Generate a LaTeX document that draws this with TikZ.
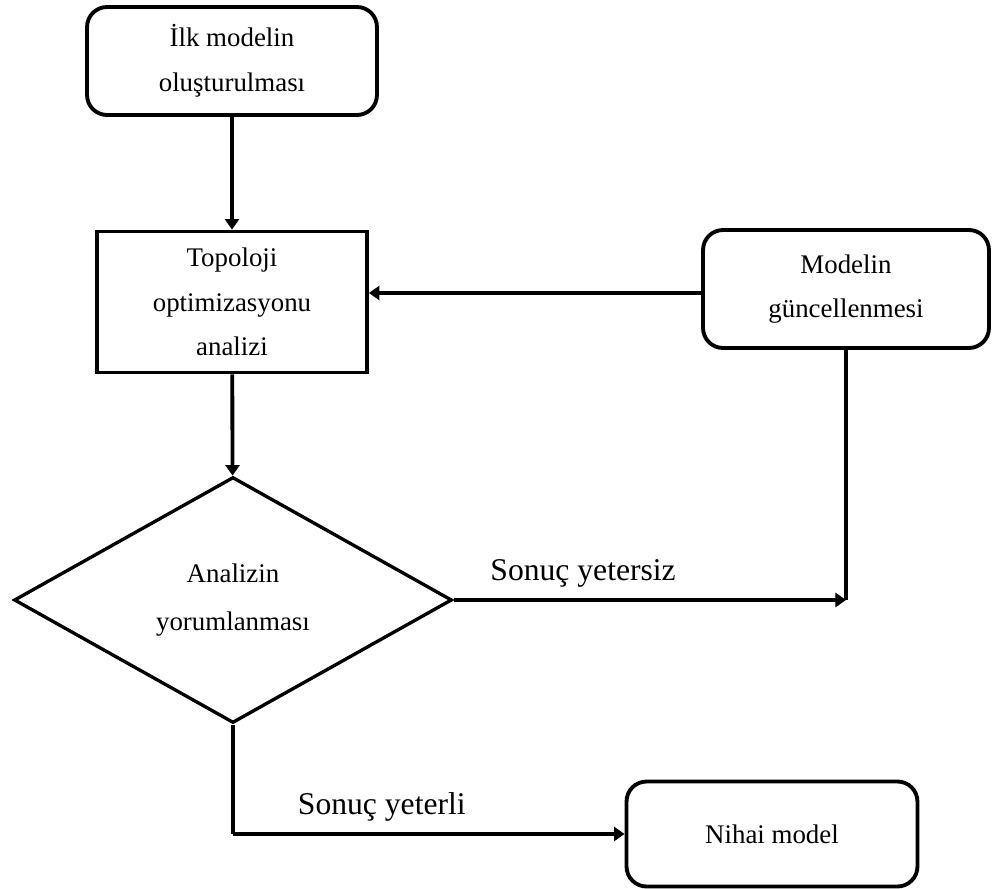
\documentclass[tikz,border=0pt]{standalone}
\usepackage{fontspec}
\setmainfont{Liberation Serif}
\usetikzlibrary{arrows.meta,shapes.geometric}

\begin{document}
\begin{tikzpicture}[x=0.02cm,y=-0.02cm]
        \tikzstyle{box}=[rectangle,draw,line width=2.2pt,align=center,font={\fontsize{15.3}{25.5}\selectfont}]
        \tikzstyle{rbox}=[box,rounded corners=0.4cm]
        \tikzstyle{decision}=[diamond,draw,line width=1.9pt,align=center,inner sep=0pt,font={\fontsize{15.3}{27}\selectfont}]
        \tikzstyle{flow}=[line width=2.2pt,-{Triangle[length=6pt,width=8pt]}]
        \tikzstyle{result}=[font={\fontsize{18}{22}\selectfont}]
        \useasboundingbox (0,0) rectangle (992,889);
        \node [rbox,minimum width=5.8cm,minimum height=2.16cm] (start) at (232, 61) {İlk modelin\\oluşturulması};
        \node [box,minimum width=5.4cm,minimum height=2.82cm] (topo) at (232, 302) {Topoloji\\optimizasyonu\\analizi};
        \node [rbox,minimum width=5.72cm,minimum height=2.36cm] (update) at (846, 289) {Modelin\\güncellenmesi};
        \node [decision,minimum width=8.76cm,minimum height=4.92cm] (check) at (233, 600) {Analizin\\yorumlanması};
        \node [rbox,minimum width=5.82cm,minimum height=2.1cm] (final) at (772, 834) {Nihai model};
        \coordinate (back) at (update.south |- check.east);
        \coordinate (knee) at (check.south |- final.west);
        \draw [flow] (start) -- (topo);
        \draw [flow] (update.west |- 0,293) -- (topo.east |- 0,293);
        \draw [flow] (topo) -- (check);
        \draw [flow] (check.east) -- node [result,above=3pt,pos=0.33] {Sonuç yetersiz} (back);
        \draw [line width=2.2pt] (update.south) -- (back);
        \draw [line width=2.2pt] (check.south) -- (knee);
        \draw [flow] (knee) -- node [result,above=3pt,pos=0.38] {Sonuç yeterli} (final.west);
\end{tikzpicture}
\end{document}
